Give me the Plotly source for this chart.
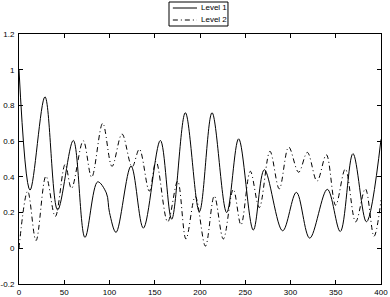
import plotly.graph_objects as go

# Level 1 (solid) key points
level1_x = [0, 12.2, 28.7, 42.7, 60, 72.9, 86.9, 96.5, 100, 107.2, 123.8, 137.4, 156.2,
            168.7, 183.8, 199.3, 213.3, 229.5, 242.7, 258.9, 271.1, 291.3, 306.5,
            321.2, 340.7, 355, 369, 383.9, 400]
level1_y = [1.0, 0.326, 0.848, 0.215, 0.604, 0.061, 0.372, 0.31, 0.2, 0.089, 0.46, 0.113, 0.604,
            0.163, 0.759, 0.205, 0.759, 0.2, 0.613, 0.102, 0.44, 0.098, 0.313,
            0.057, 0.33, 0.094, 0.53, 0.148, 0.61]

# Level 2 (dash-dot) key points
level2_x = [0, 9.6, 18.8, 29.8, 40.1, 51, 58, 71, 80.3, 92.5, 102.8, 113.8, 125, 133,
            144, 151.4, 164.3, 175.3, 184.5, 194.8, 206, 215.8, 225.8, 236.8, 245.3,
            255.6, 265.5, 277.3, 287.6, 298, 309, 318.6, 329.3, 339.6, 349.9, 360.6,
            372, 382.7, 392.3, 400]
level2_y = [0.0, 0.32, 0.043, 0.404, 0.178, 0.47, 0.335, 0.602, 0.398, 0.70, 0.459, 0.64, 0.456, 0.555,
            0.32, 0.487, 0.148, 0.376, 0.052, 0.29, 0.012, 0.293, 0.052, 0.33, 0.131,
            0.431, 0.228, 0.543, 0.333, 0.567, 0.426, 0.537, 0.376, 0.524, 0.241, 0.444,
            0.148, 0.333, 0.067, 0.27]

names = ["Level 1", "Level 2"]
x_ticks = [0, 50, 100, 150, 200, 250, 300, 350, 400]
y_ticks = [-0.2, 0, 0.2, 0.4, 0.6, 0.8, 1, 1.2]
y_tick_text = ["-0.2", "0", "0.2", "0.4", "0.6", "0.8", "1", "1.2"]

DASHDOT = "5px,3px,1px,3px"
FONT = "Liberation Sans, Arial, Helvetica, sans-serif"

fig = go.Figure()
fig.add_trace(go.Scatter(x=level1_x, y=level1_y, mode="lines", name=names[0],
                         line=dict(color="black", width=1, shape="spline", smoothing=1.0),
                         showlegend=False))
fig.add_trace(go.Scatter(x=level2_x, y=level2_y, mode="lines", name=names[1],
                         line=dict(color="black", width=1, dash=DASHDOT, shape="spline", smoothing=1.0),
                         showlegend=False))

# Legend box drawn above the axes (paper coordinates; plot area spans 34..284 px)
PH = 250.0
def py(p):
    return 1 + (34 - p) / PH
lx0, lx1 = 0.4144, 0.5773
fig.add_shape(type="rect", xref="paper", yref="paper", x0=lx0, x1=lx1, y0=py(26), y1=py(2),
              line=dict(color="black", width=1), fillcolor="white", layer="above")
row_y = [py(8), py(20)]
dashes = ["solid", DASHDOT]
for i in range(2):
    fig.add_shape(type="line", xref="paper", yref="paper", x0=0.425, x1=0.4917,
                  y0=row_y[i], y1=row_y[i], line=dict(color="black", width=1, dash=dashes[i]))
    fig.add_annotation(xref="paper", yref="paper", x=0.497, y=row_y[i], text=names[i],
                       showarrow=False, xanchor="left", yanchor="middle",
                       font=dict(size=8, color="black", family=FONT))

axis_common = dict(showgrid=False, zeroline=False, showline=True, linecolor="black",
                   linewidth=1, mirror="ticks", ticks="inside", ticklen=4,
                   tickcolor="black", tickwidth=1, automargin=False,
                   tickfont=dict(size=8, color="black", family=FONT))

fig.update_xaxes(range=[0, 400], tickvals=x_ticks, ticktext=[str(v) for v in x_ticks],
                 **axis_common)
fig.update_yaxes(range=[-0.2, 1.2], tickvals=y_ticks, ticktext=y_tick_text,
                 ticklabelstandoff=2, **axis_common)

fig.update_layout(width=390, height=297,
                  margin=dict(l=19, r=9, t=34, b=13, pad=0),
                  paper_bgcolor="white", plot_bgcolor="white",
                  font=dict(family=FONT, size=8, color="black"))

# remove the page's default body margin so the figure sits at the window's corner
fig.write_html("out.html", config={"displayModeBar": False},
               post_script="document.body.style.margin='0';document.body.style.overflow='hidden';")
